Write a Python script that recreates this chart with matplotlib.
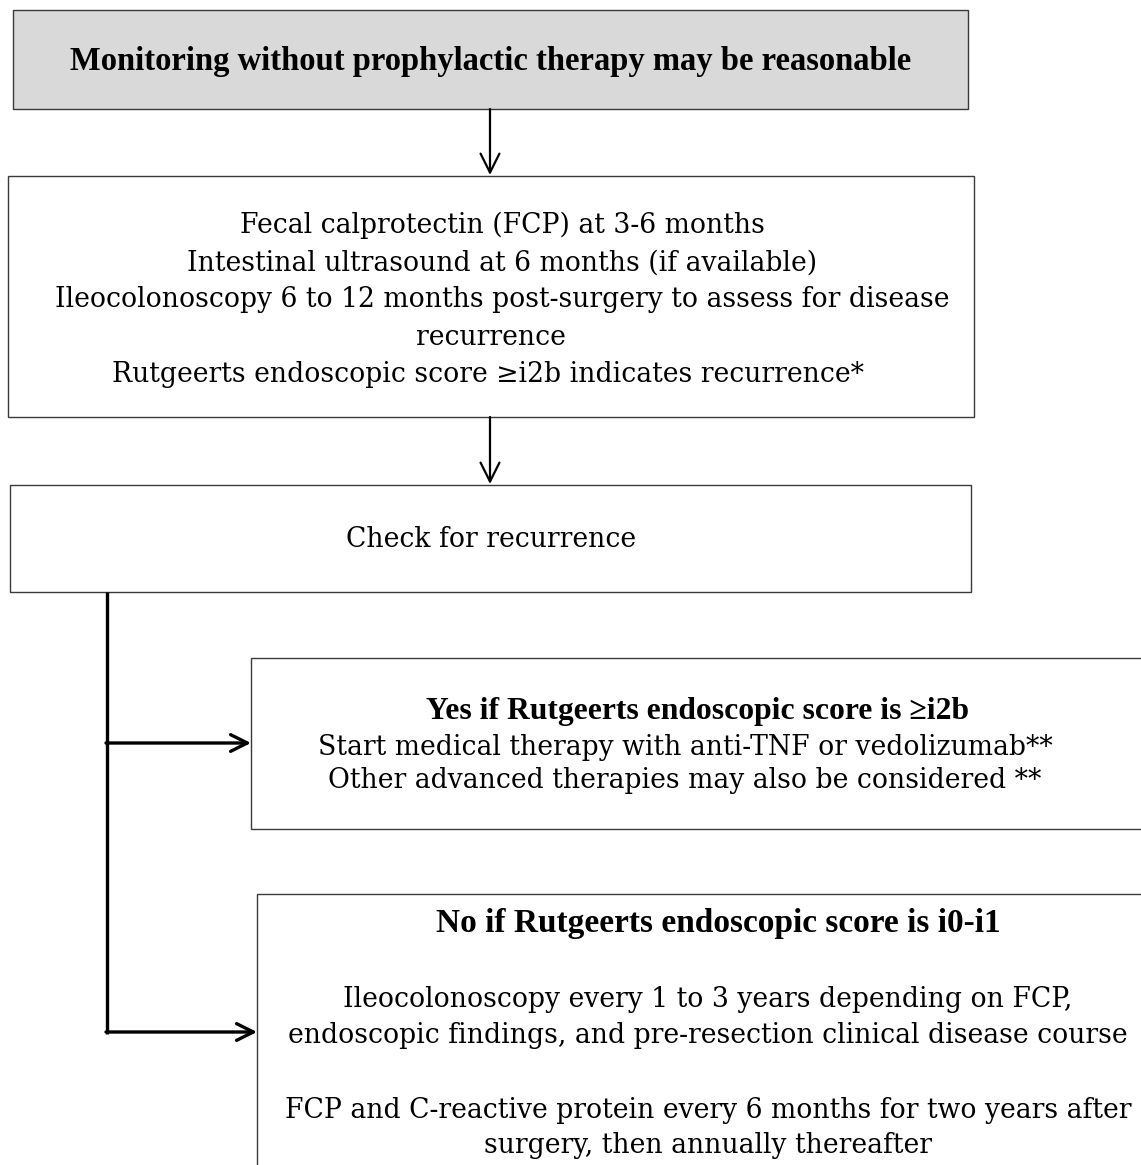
import matplotlib.pyplot as plt
from matplotlib.patches import Rectangle

plt.rcParams['font.family'] = ['DejaVu Serif']

# Texts of the flowchart boxes
top_title = "Monitoring without prophylactic therapy may be reasonable"
monitor_lines = [
    "Fecal calprotectin (FCP) at 3-6 months",
    "Intestinal ultrasound at 6 months (if available)",
    "Ileocolonoscopy 6 to 12 months post-surgery to assess for disease",
    "recurrence",
    "Rutgeerts endoscopic score \u2265i2b indicates recurrence*",
]
check_title = "Check for recurrence"
yes_title = "Yes if Rutgeerts endoscopic score is \u2265i2b"
yes_lines = [
    "Start medical therapy with anti-TNF or vedolizumab**",
    "Other advanced therapies may also be considered **",
]
no_title = "No if Rutgeerts endoscopic score is i0-i1"
no_lines = [
    "Ileocolonoscopy every 1 to 3 years depending on FCP,",
    "endoscopic findings, and pre-resection clinical disease course",
    "",
    "FCP and C-reactive protein every 6 months for two years after",
    "surgery, then annually thereafter",
]

W, H = 1141, 1165
fig = plt.figure(figsize=(W / 100, H / 100), dpi=100)
ax = fig.add_axes([0, 0, 1, 1])
ax.set_xlim(0, W)
ax.set_ylim(H, 0)
ax.axis('off')

fs = 19.2
bold_font = dict(family=['Liberation Serif', 'DejaVu Serif'], fontweight='bold')


def box(x0, y0, x1, y1, fc='white'):
    ax.add_patch(Rectangle((x0, y0), x1 - x0, y1 - y0, facecolor=fc,
                           edgecolor='#3a3a3a', linewidth=1.0, zorder=1))


def arrow(x0, y0, x1, y1, lw, scale):
    ax.annotate('', xy=(x1, y1), xytext=(x0, y0),
                arrowprops=dict(arrowstyle='->', color='black', lw=lw,
                                mutation_scale=scale, shrinkA=0, shrinkB=0),
                zorder=3)


# top box
box(13, 10, 968, 109, fc='#d9d9d9')
ax.text(491, 70, top_title, ha='center', va='baseline', fontsize=23.5, **bold_font)
arrow(490, 109, 490, 175, 1.6, 34)

# monitoring box
box(8, 176, 974, 417)
x_shift = [11, 11, 11, 0, -3]
for i, line in enumerate(monitor_lines):
    ax.text(491 + x_shift[i], 233 + i * 37.2, line, ha='center', va='baseline', fontsize=fs)
arrow(490, 417, 490, 484, 1.6, 34)

# check box
box(10, 485, 971, 592)
ax.text(491, 547, check_title, ha='center', va='baseline', fontsize=fs)

# branch line
ax.plot([107, 107], [592, 1033.5], color='black', lw=2.4, solid_capstyle='butt', zorder=2)
arrow(106, 743, 251, 743, 2.4, 30)
arrow(106, 1032, 257, 1032, 2.4, 30)

# yes box
box(251, 658, 1160, 829)
ax.text(698, 719, yes_title, ha='center', va='baseline', fontsize=22.8, **bold_font)
for i, line in enumerate(yes_lines):
    ax.text(685, 755 + i * 33.5, line, ha='center', va='baseline', fontsize=fs)

# no box
box(257, 894, 1160, 1200)
ax.text(718, 932, no_title, ha='center', va='baseline', fontsize=24, **bold_font)
no_y = [1007, 1043, None, 1118, 1153]
for y, line in zip(no_y, no_lines):
    if line:
        ax.text(708, y, line, ha='center', va='baseline', fontsize=fs)

fig.savefig('out.png', dpi=100)
